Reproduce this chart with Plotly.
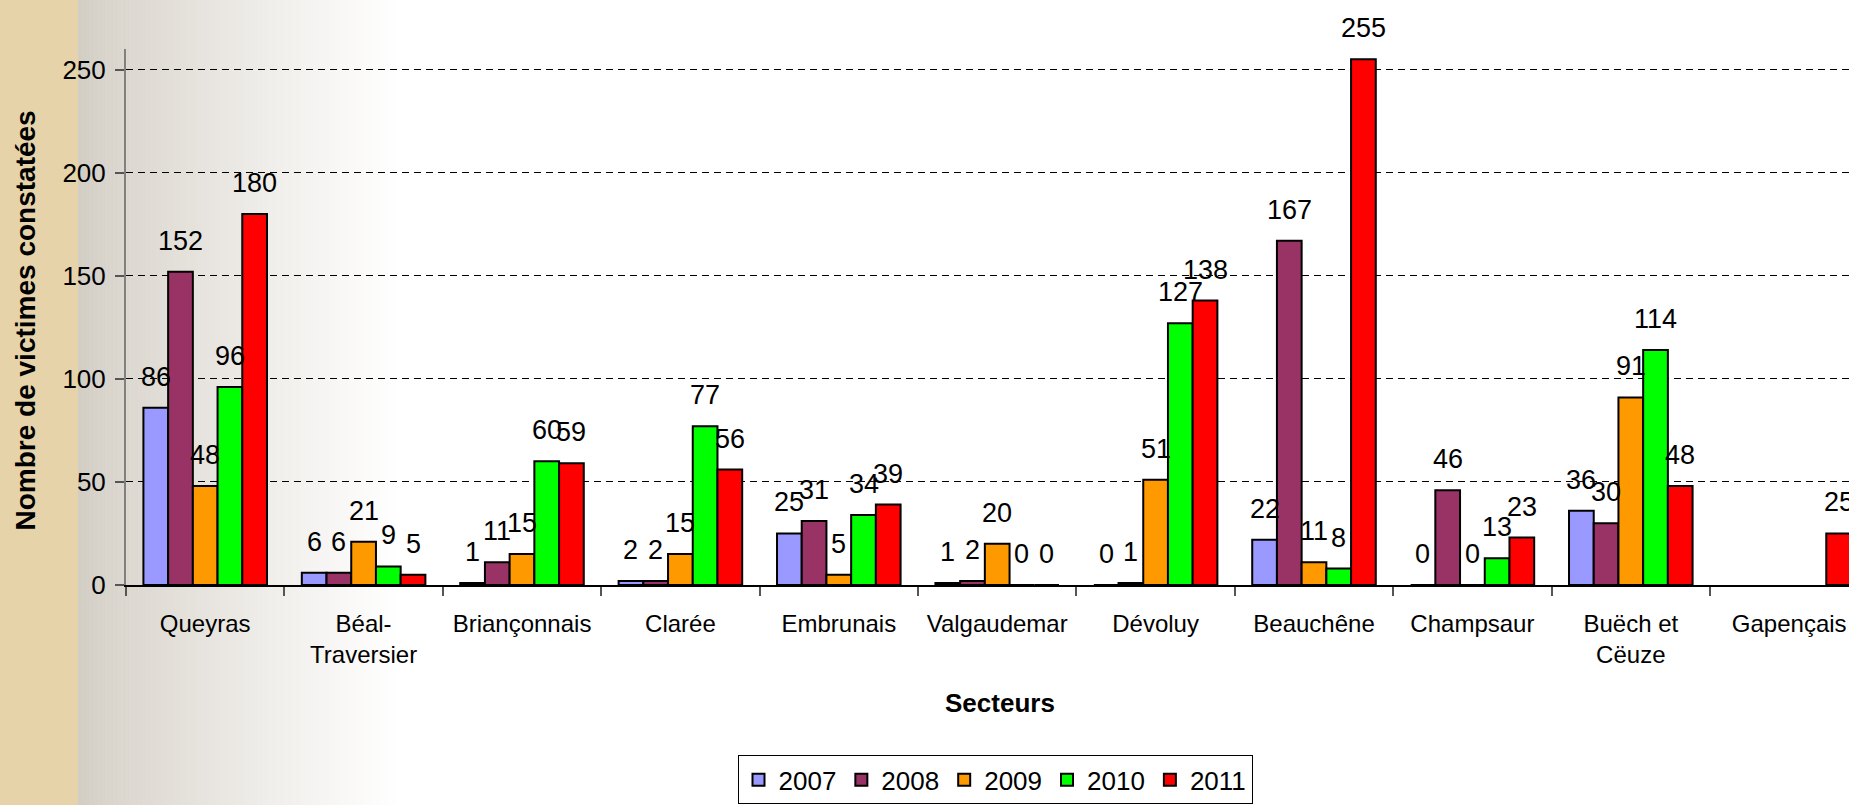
import plotly.graph_objects as go


categories = [
    "Queyras", "Béal-<br>Traversier", "Briançonnais", "Clarée", "Embrunais",
    "Valgaudemar", "Dévoluy", "Beauchêne", "Champsaur", "Buëch et<br>Cëuze",
    "Gapençais"
]

years = ["2007", "2008", "2009", "2010", "2011"]

v2007 = [86, 6, 1, 2, 25, 1, 0, 22, 0, 36, None]
v2008 = [152, 6, 11, 2, 31, 2, 1, 167, 46, 30, None]
v2009 = [48, 21, 15, 15, 5, 20, 51, 11, 0, 91, None]
v2010 = [96, 9, 60, 77, 34, 0, 127, 8, 13, 114, None]
v2011 = [180, 5, 59, 56, 39, 0, 138, 255, 23, 48, 25]

series = [v2007, v2008, v2009, v2010, v2011]
colors = ["#9999FF", "#993366", "#FF9900", "#00FF00", "#FF0000"]

y_ticks = [0, 50, 100, 150, 200, 250]


FONT = "Liberation Sans, Arial, sans-serif"

# plot area in pixels
LEFT = 126
TOP = 49
BOTTOM = 587
W = 1849
H = 805
plot_w = W - LEFT
plot_h = BOTTOM - TOP

bargap = 0.22
step = 158.4


def px_x(px):
    return (px - LEFT) / plot_w


def px_y(py):
    return (BOTTOM - py) / plot_h


fig = go.Figure()


for year, vals, col in zip(years, series, colors):
    fig.add_trace(
        go.Bar(
            x=categories,
            y=vals,
            name=year,
            marker=dict(color=col, line=dict(color="black", width=2))
        )
    )


# value labels above the bars
bw = (1 - bargap) / len(years)
annotations = []
for i, vals in enumerate(series):
    for j, v in enumerate(vals):
        if v is None:
            continue
        annotations.append(
            dict(
                x=j + (i - 2) * bw,
                y=v,
                xref="x",
                yref="y",
                text=str(v),
                showarrow=False,
                yanchor="bottom",
                yshift=14,
                font=dict(family=FONT, size=27, color="black")
            )
        )


annotations.append(
    dict(
        x=px_x(25.5),
        y=px_y(322),
        xref="paper",
        yref="paper",
        text="<b>Nombre de victimes constatées</b>",
        textangle=-90,
        showarrow=False,
        xanchor="center",
        yanchor="middle",
        font=dict(family=FONT, size=28, color="black")
    )
)

annotations.append(
    dict(
        x=px_x(1000),
        y=px_y(705),
        xref="paper",
        yref="paper",
        text="<b>Secteurs</b>",
        showarrow=False,
        xanchor="center",
        yanchor="middle",
        font=dict(family=FONT, size=26, color="black")
    )
)


# background: parchment strip + grey to white gradient
shapes = [
    dict(
        type="rect", xref="paper", yref="paper",
        x0=px_x(0), x1=px_x(78), y0=px_y(H + 5), y1=px_y(-5),
        fillcolor="#E6D3AA", line=dict(width=0), layer="below"
    )
]

g0 = (211, 206, 196)
g_start = 78
g_end = 400
n = 80
for k in range(n):
    t = k / (n - 1)
    t2 = t ** 0.85
    c = [round(a + (255 - a) * t2) for a in g0]
    xa = g_start + (g_end - g_start) * k / n
    xb = g_start + (g_end - g_start) * (k + 1) / n + 0.5
    shapes.append(
        dict(
            type="rect", xref="paper", yref="paper",
            x0=px_x(xa), x1=px_x(xb), y0=px_y(H + 5), y1=px_y(-5),
            fillcolor="rgb(%d,%d,%d)" % tuple(c), line=dict(width=0),
            layer="below"
        )
    )


fig.update_layout(
    width=W,
    height=H,
    autosize=False,
    margin=dict(l=LEFT, r=0, t=TOP, b=H - BOTTOM, pad=0),
    paper_bgcolor="white",
    plot_bgcolor="rgba(0,0,0,0)",
    barmode="group",
    bargap=bargap,
    bargroupgap=0,
    font=dict(family=FONT, size=24, color="black"),
    showlegend=True,
    legend=dict(
        orientation="h",
        x=px_x(995),
        y=px_y(758),
        xanchor="center",
        yanchor="top",
        bgcolor="white",
        bordercolor="black",
        borderwidth=1,
        font=dict(family=FONT, size=26, color="black"),
        itemwidth=30
    ),
    annotations=annotations,
    shapes=shapes
)


fig.update_xaxes(
    type="category",
    range=[-0.5, -0.5 + plot_w / step],
    showline=True,
    linecolor="black",
    linewidth=1.5,
    ticks="outside",
    tickson="boundaries",
    ticklen=9,
    tickcolor="#555555",
    tickwidth=1.5,
    ticklabelstandoff=16,
    tickfont=dict(family=FONT, size=24, color="black"),
    showgrid=False,
    zeroline=False
)


fig.update_yaxes(
    range=[0, 260],
    tickvals=y_ticks,
    showline=True,
    linecolor="#808080",
    linewidth=2,
    ticks="outside",
    ticklen=9,
    tickcolor="#555555",
    tickwidth=1.5,
    ticklabelstandoff=4,
    tickfont=dict(family=FONT, size=26, color="black"),
    showgrid=True,
    gridcolor="black",
    gridwidth=1,
    griddash="7px,5px",
    zeroline=False
)


fig.write_html(
    "out.html",
    config={"displayModeBar": False},
    post_script="document.body.style.margin='0';"
)
